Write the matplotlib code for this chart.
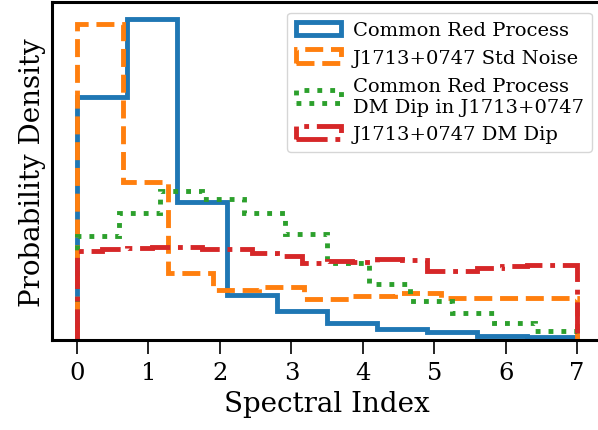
import numpy as np
import matplotlib
matplotlib.use("Agg")
import matplotlib.pyplot as plt

plt.rcParams['font.family'] = 'DejaVu Serif'

# Histogram densities (spectral index from 0 to 7)
crp_density = [0.423, 0.559, 0.240, 0.078, 0.051, 0.031, 0.019, 0.014, 0.007, 0.005]
std_density = [0.549, 0.275, 0.117, 0.087, 0.092, 0.071, 0.077, 0.082, 0.073, 0.073, 0.073]
crp_dip_density = [0.181, 0.221, 0.260, 0.246, 0.221, 0.185, 0.134, 0.098,
                   0.068, 0.047, 0.031, 0.016]
dip_density = [0.155, 0.159, 0.160, 0.162, 0.162, 0.159, 0.159, 0.152, 0.146, 0.134,
               0.138, 0.136, 0.141, 0.139, 0.120, 0.120, 0.125, 0.129, 0.131, 0.131]

labels = ['Common Red Process', 'J1713+0747 Std Noise',
          'Common Red Process\nDM Dip in J1713+0747', 'J1713+0747 DM Dip']
colors = ['#1f77b4', '#ff7f0e', '#2ca02c', '#d62728']
styles = ['-', '--', ':', '-.']
gamma_min, gamma_max = 0.0, 7.0

fig = plt.figure(figsize=(5.98, 4.31), dpi=100)
ax = fig.add_axes([0.087, 0.208, 0.92, 0.784])

for dens, lab, col, ls in zip([crp_density, std_density, crp_dip_density, dip_density],
                              labels, colors, styles):
    edges = np.linspace(gamma_min, gamma_max, len(dens) + 1)
    centers = 0.5 * (edges[:-1] + edges[1:])
    ax.hist(centers, bins=edges, weights=dens, histtype='step', color=col,
            linestyle=ls, linewidth=3.5, label=lab)

ax.set_xlim(-0.35, 7.35)
ax.set_xticks(range(8))
ax.set_yticks([])
ax.tick_params(axis='x', labelsize=17.5, length=10, width=1.2, direction='out', pad=5)
for sp in ax.spines.values():
    sp.set_linewidth(2.2)

ax.set_xlabel('Spectral Index', fontsize=20)
ax.set_ylabel('Probability Density', fontsize=20)

ax.legend(loc='upper right', fontsize=14, bbox_to_anchor=(0.982, 0.97),
          borderaxespad=0, handlelength=2.3, labelspacing=0.5, borderpad=0.45,
          handletextpad=0.6, framealpha=0.8)

fig.savefig('out.png', dpi=100)
